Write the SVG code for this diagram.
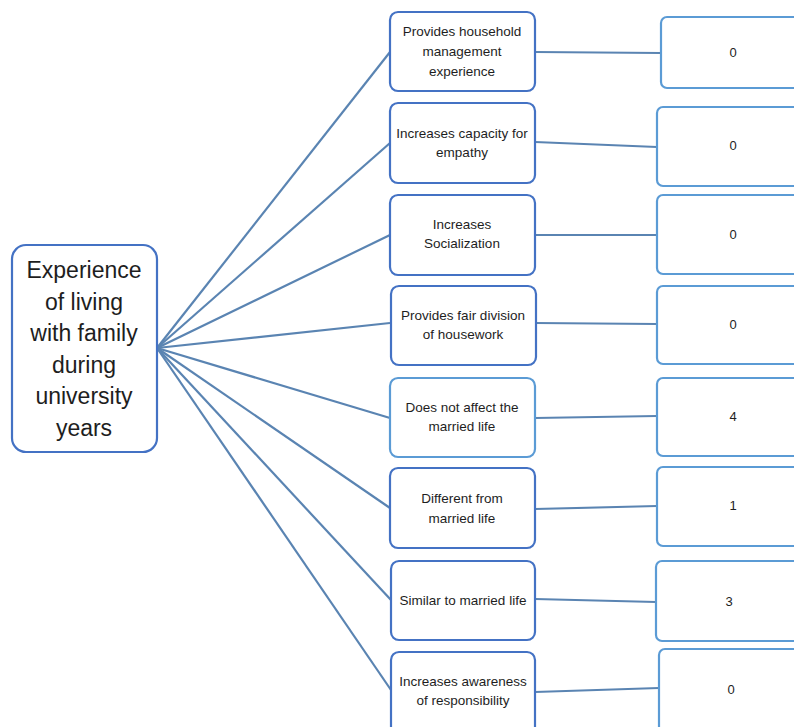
<svg xmlns="http://www.w3.org/2000/svg" width="794" height="727" viewBox="0 0 794 727">
<style>
.root{fill:#fff;stroke:#4472C4;stroke-width:2.2}
.mid{fill:#fff;stroke:#4472C4;stroke-width:2.2}
.midl{fill:#fff;stroke:#5B9BD5;stroke-width:2.2}
.res{fill:#fff;stroke:#5B9BD5;stroke-width:2.2}
.conn line{stroke:#5A84B2;stroke-width:2.2}
text{font-family:"Liberation Sans",Arial,sans-serif;fill:#1e1e1e;text-anchor:middle}
.rt{font-size:23px}
.mt{font-size:13.5px}
.nt{font-size:13px}
</style>
<rect width="794" height="727" fill="#fff"/>
<g id="connectors" class="conn">
<line x1="157" y1="348" x2="390" y2="52"/>
<line x1="157" y1="348" x2="390" y2="143"/>
<line x1="157" y1="348" x2="390" y2="235"/>
<line x1="157" y1="348" x2="390" y2="323"/>
<line x1="157" y1="348" x2="390" y2="418"/>
<line x1="157" y1="348" x2="390" y2="508"/>
<line x1="157" y1="348" x2="391" y2="600"/>
<line x1="157" y1="348" x2="391" y2="690"/>
<line x1="535" y1="52" x2="661" y2="53"/>
<line x1="535" y1="142" x2="657" y2="147"/>
<line x1="535" y1="235" x2="657" y2="235"/>
<line x1="535" y1="323" x2="657" y2="324"/>
<line x1="535" y1="418" x2="657" y2="416"/>
<line x1="535" y1="509" x2="657" y2="506"/>
<line x1="535" y1="599" x2="656" y2="602"/>
<line x1="535" y1="692" x2="659" y2="688"/>
</g>
<g id="root">
<rect class="root" x="12" y="245" width="145" height="207" rx="14"/>
<text class="rt" x="84" y="278">Experience</text>
<text class="rt" x="84" y="310">of living</text>
<text class="rt" x="84" y="341">with family</text>
<text class="rt" x="84" y="373">during</text>
<text class="rt" x="84" y="404">university</text>
<text class="rt" x="84" y="436">years</text>
</g>
<g id="m1"><rect class="mid" x="390" y="12" width="145" height="79" rx="8"/>
<text class="mt" x="462" y="36">Provides household</text><text class="mt" x="462" y="56">management</text><text class="mt" x="462" y="76">experience</text></g>
<g id="m2"><rect class="mid" x="390" y="103" width="145" height="80" rx="8"/>
<text class="mt" x="462" y="138">Increases capacity for</text><text class="mt" x="462" y="157">empathy</text></g>
<g id="m3"><rect class="mid" x="390" y="195" width="145" height="80" rx="8"/>
<text class="mt" x="462" y="229">Increases</text><text class="mt" x="462" y="248">Socialization</text></g>
<g id="m4"><rect class="mid" x="391" y="286" width="145" height="79" rx="8"/>
<text class="mt" x="463" y="320">Provides fair division</text><text class="mt" x="463" y="339">of housework</text></g>
<g id="m5"><rect class="midl" x="390" y="378" width="145" height="79" rx="8"/>
<text class="mt" x="462" y="412">Does not affect the</text><text class="mt" x="462" y="431">married life</text></g>
<g id="m6"><rect class="mid" x="390" y="468" width="145" height="80" rx="8"/>
<text class="mt" x="462" y="503">Different from</text><text class="mt" x="462" y="523">married life</text></g>
<g id="m7"><rect class="mid" x="391" y="561" width="144" height="79" rx="8"/>
<text class="mt" x="463" y="605">Similar to married life</text></g>
<g id="m8"><rect class="mid" x="391" y="652" width="144" height="85" rx="8"/>
<text class="mt" x="463" y="686">Increases awareness</text><text class="mt" x="463" y="705">of responsibility</text></g>
<g id="r1"><rect class="res" x="661" y="17" width="150" height="71" rx="6"/><text class="nt" x="733" y="57">0</text></g>
<g id="r2"><rect class="res" x="657" y="107" width="154" height="79" rx="6"/><text class="nt" x="733" y="150">0</text></g>
<g id="r3"><rect class="res" x="657" y="195" width="154" height="79" rx="6"/><text class="nt" x="733" y="239">0</text></g>
<g id="r4"><rect class="res" x="657" y="286" width="154" height="78" rx="6"/><text class="nt" x="733" y="329">0</text></g>
<g id="r5"><rect class="res" x="657" y="378" width="154" height="78" rx="6"/><text class="nt" x="733" y="421">4</text></g>
<g id="r6"><rect class="res" x="657" y="467" width="154" height="79" rx="6"/><text class="nt" x="733" y="510">1</text></g>
<g id="r7"><rect class="res" x="656" y="561" width="155" height="80" rx="6"/><text class="nt" x="729" y="606">3</text></g>
<g id="r8"><rect class="res" x="659" y="649" width="152" height="88" rx="6"/><text class="nt" x="731" y="694">0</text></g>
</svg>
